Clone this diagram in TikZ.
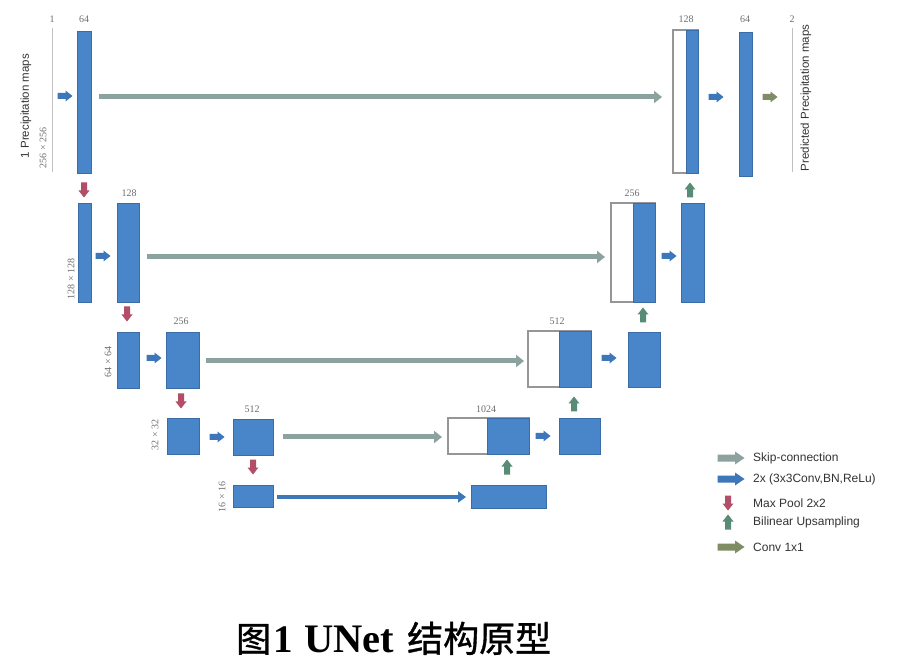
\documentclass[tikz,border=0pt]{standalone}
\usepackage{fontspec}
\setmainfont{Liberation Serif}
\setsansfont{Liberation Sans}
\newfontfamily\cjk[FakeBold=1]{Noto Sans CJK SC}
\usetikzlibrary{arrows.meta}
\definecolor{convblue}{RGB}{72,134,201}
\definecolor{convline}{RGB}{58,108,168}
\definecolor{catgray}{RGB}{150,150,150}
\definecolor{skipcol}{RGB}{140,162,158}
\definecolor{arrblue}{RGB}{62,118,186}
\definecolor{poolred}{RGB}{178,78,104}
\definecolor{upgreen}{RGB}{88,140,118}
\definecolor{convolive}{RGB}{128,140,100}
\definecolor{labgray}{RGB}{110,110,110}
\tikzset{
  blk/.style={draw=convline, fill=convblue, line width=0.6pt, inner sep=0pt, outer sep=0pt, anchor=north west},
  catw/.style={draw=catgray, fill=white, line width=1.2pt, inner sep=0pt, outer sep=0pt, anchor=north west},
  pics/barr/.style={code={
    \path[pic actions] (-7.5,-3) -- (0.5,-3) -- (0.5,-5.5) -- (7.5,0) -- (0.5,5.5) -- (0.5,3) -- (-7.5,3) -- cycle;}},
  pics/barrl/.style={code={
    \path[pic actions] (-13.5,-3.5) -- (4,-3.5) -- (4,-6.5) -- (13.5,0) -- (4,6.5) -- (4,3.5) -- (-13.5,3.5) -- cycle;}},
  skip/.style={draw=skipcol, line width=5pt, -{Triangle[length=8pt,width=12pt]}},
  deep/.style={draw=arrblue, line width=4pt, -{Triangle[length=8pt,width=11pt]}},
  toplab/.style={font=\fontsize{10}{12}\selectfont, text=labgray, inner sep=0pt},
  sizelab/.style={font=\fontsize{10}{12}\selectfont, text=labgray, inner sep=0pt, rotate=90},
  maplab/.style={font=\sffamily\fontsize{11.5}{13}\selectfont, text=black!80, inner sep=0pt, rotate=90},
  leglab/.style={font=\sffamily\fontsize{12}{14}\selectfont, text=black!80, inner sep=0pt, anchor=west},
}
\begin{document}
\begin{tikzpicture}[x=1pt,y=-1pt]
\useasboundingbox (0,0) rectangle (903,668);
\fill[white] (0,0) rectangle (903,668);

% input / output maps
\draw[catgray!60, line width=0.8pt] (52,28) -- (52,172);
\node[toplab] (lin) at (52,19) {1};
\node[maplab] (inmap) at (26,106) {1 Precipitation maps};
\node[sizelab] (sz1) at (43,148) {256 × 256};
\draw[catgray!60, line width=0.8pt] (792,28) -- (792,172);
\node[toplab] (lout) at (792,19) {2};
\node[maplab] (outmap) at (806,98) {Predicted Precipitation maps};

% encoder
\node[blk, minimum width=14pt, minimum height=142pt] (e1) at (77,31) {};
\node[blk, minimum width=13pt, minimum height=99pt] (e2a) at (78,203) {};
\node[blk, minimum width=22pt, minimum height=99pt] (e2b) at (117,203) {};
\node[blk, minimum width=22pt, minimum height=56pt] (e3a) at (117,332) {};
\node[blk, minimum width=33pt, minimum height=56pt] (e3b) at (166,332) {};
\node[blk, minimum width=32pt, minimum height=36pt] (e4a) at (167,418) {};
\node[blk, minimum width=40pt, minimum height=36pt] (e4b) at (233,419) {};
\node[blk, minimum width=40pt, minimum height=22pt] (e5) at (233,485) {};
\node[blk, minimum width=75pt, minimum height=23pt] (b5) at (471,485) {};

% decoder
\node[catw, minimum width=81pt, minimum height=36pt] (cat4w) at (448,418) {};
\node[blk, minimum width=42pt, minimum height=36pt] (cat4b) at (487,418) {};
\node[blk, minimum width=41pt, minimum height=36pt] (d4) at (559,418) {};
\node[catw, minimum width=63pt, minimum height=56pt] (cat3w) at (528,331) {};
\node[blk, minimum width=32pt, minimum height=56pt] (cat3b) at (559,331) {};
\node[blk, minimum width=32pt, minimum height=55pt] (d3) at (628,332) {};
\node[catw, minimum width=44pt, minimum height=99pt] (cat2w) at (611,203) {};
\node[blk, minimum width=22pt, minimum height=99pt] (cat2b) at (633,203) {};
\node[blk, minimum width=23pt, minimum height=99pt] (d2) at (681,203) {};
\node[catw, minimum width=25pt, minimum height=143pt] (cat1w) at (673,30) {};
\node[blk, minimum width=12pt, minimum height=143pt] (cat1b) at (686,30) {};
\node[blk, minimum width=13pt, minimum height=144pt] (d1) at (739,32) {};

% channel labels
\node[toplab] (l64a) at (84,19) {64};
\node[toplab] (l128c) at (686,19) {128};
\node[toplab] (l64b) at (745,19) {64};
\node[toplab] (l128) at (129,193) {128};
\node[toplab] (l256c) at (632,193) {256};
\node[toplab] (l256) at (181,321) {256};
\node[toplab] (l512c) at (557,321) {512};
\node[toplab] (l512) at (252,409) {512};
\node[toplab] (l1024) at (486,409) {1024};

% size labels
\node[sizelab] (sz2) at (71,279) {128 × 128};
\node[sizelab] (sz3) at (108,362) {64 × 64};
\node[sizelab] (sz4) at (155,435) {32 × 32};
\node[sizelab] (sz5) at (222,497) {16 × 16};

% skip connections
\coordinate (r1) at (0,97);
\coordinate (r2) at (0,257);
\coordinate (r3) at (0,361);
\coordinate (r4) at (0,437);
\coordinate (r5) at (0,497);
\draw[skip, shorten <=8pt, shorten >=11pt] (e1.east |- r1) -- (cat1w.west |- r1);
\draw[skip, shorten <=8pt, shorten >=6pt] (e2b.east |- r2) -- (cat2w.west |- r2);
\draw[skip, shorten <=7pt, shorten >=4pt] (e3b.east |- r3) -- (cat3w.west |- r3);
\draw[skip, shorten <=10pt, shorten >=6pt] (e4b.east |- r4) -- (cat4w.west |- r4);
\draw[deep, shorten <=4pt, shorten >=5pt] (e5.east |- r5) -- (b5.west |- r5);

% conv arrows
\pic[fill=arrblue] (c1) at (65,96) {barr};
\pic[fill=arrblue] (c2) at (103,256) {barr};
\pic[fill=arrblue] (c3) at (154,358) {barr};
\pic[fill=arrblue] (c4) at (217,437) {barr};
\pic[fill=arrblue] (c5) at (543,436) {barr};
\pic[fill=arrblue] (c6) at (609,358) {barr};
\pic[fill=arrblue] (c7) at (669,256) {barr};
\pic[fill=arrblue] (c8) at (716,97) {barr};
\pic[fill=convolive] (c9) at (770,97) {barr};

% pooling arrows
\pic[fill=poolred, rotate=-90] (p1) at (84,190) {barr};
\pic[fill=poolred, rotate=-90] (p2) at (127,314) {barr};
\pic[fill=poolred, rotate=-90] (p3) at (181,401) {barr};
\pic[fill=poolred, rotate=-90] (p4) at (253,467) {barr};

% upsampling arrows
\pic[fill=upgreen, rotate=90] (u1) at (690,190) {barr};
\pic[fill=upgreen, rotate=90] (u2) at (643,315) {barr};
\pic[fill=upgreen, rotate=90] (u3) at (574,404) {barr};
\pic[fill=upgreen, rotate=90] (u4) at (507,467) {barr};

% legend
\pic[fill=skipcol] (lg1) at (731,458) {barrl};
\pic[fill=arrblue] (lg2) at (731,479) {barrl};
\pic[fill=poolred, rotate=-90] (lg3) at (728,503) {barr};
\pic[fill=upgreen, rotate=90] (lg4) at (728,522) {barr};
\pic[fill=convolive] (lg5) at (731,547) {barrl};
\node[leglab] (t1) at (753,458) {Skip-connection};
\node[leglab] (t2) at (753,479) {2x (3x3Conv,BN,ReLu)};
\node[leglab] (t3) at (753,503) {Max Pool 2x2};
\node[leglab] (t4) at (753,522) {Bilinear Upsampling};
\node[leglab] (t5) at (753,547) {Conv 1x1};

% caption
\node[anchor=base west, inner sep=0pt, font=\cjk\fontsize{35}{40}\selectfont] (cap1) at (236,652) {图};
\node[anchor=base west, inner sep=0pt, font=\bfseries\fontsize{39}{44}\selectfont] (cap2) at (273,652) {1};
\node[anchor=base west, inner sep=0pt, font=\bfseries\fontsize{40.5}{44}\selectfont] (cap3) at (304,652) {UNet};
\node[anchor=base west, inner sep=0pt, font=\cjk\fontsize{36}{40}\selectfont] (cap4) at (407,652) {结构原型};
\end{tikzpicture}
\end{document}
